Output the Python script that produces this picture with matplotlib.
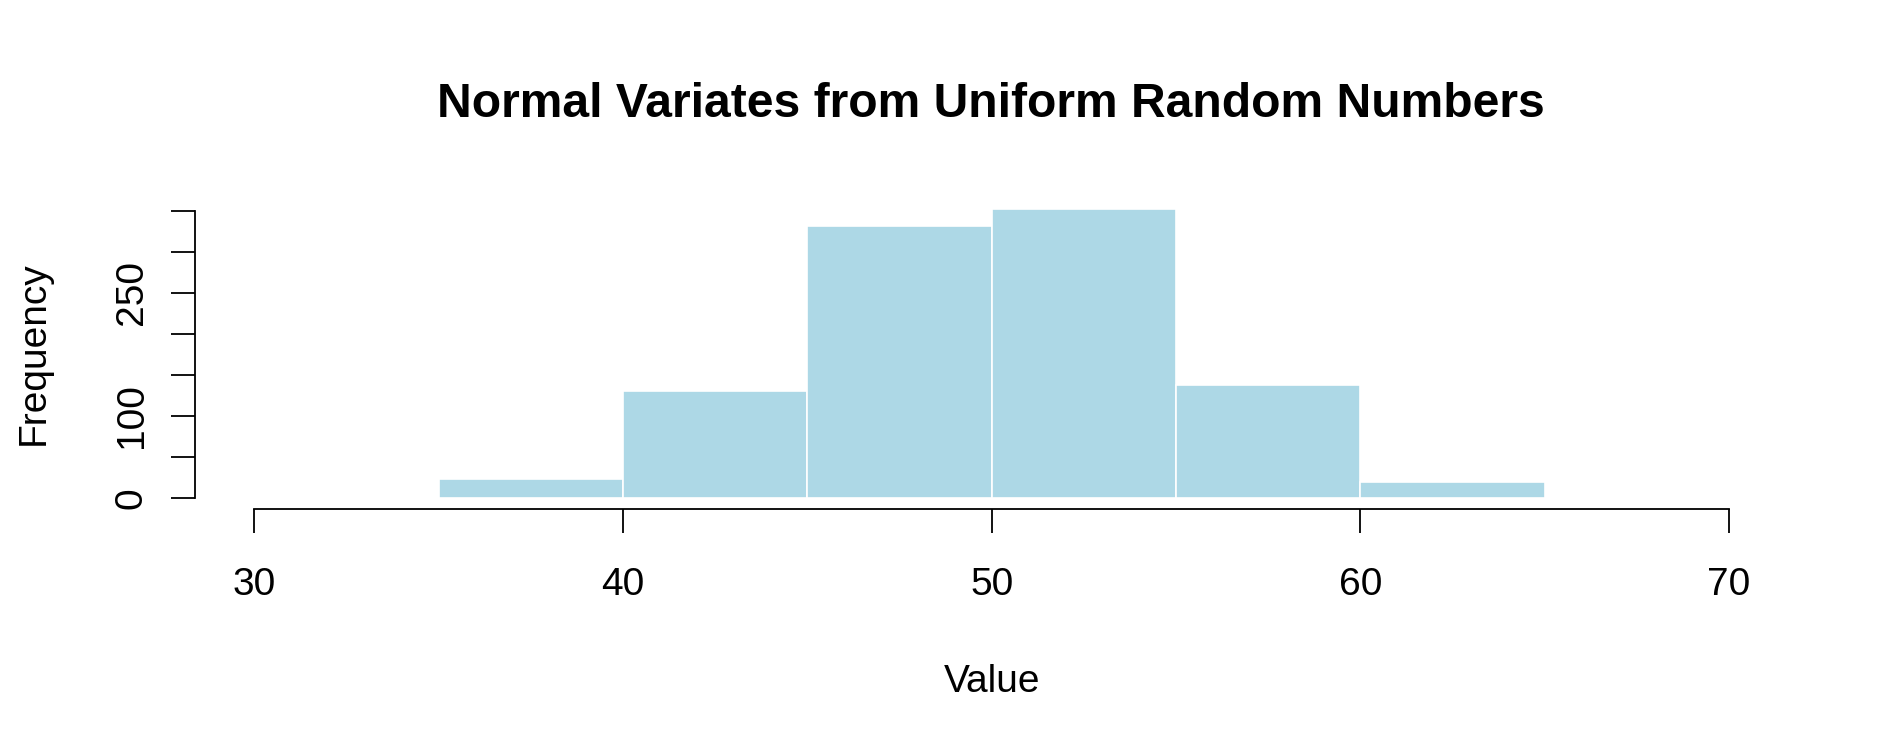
import matplotlib
matplotlib.use("Agg")
import matplotlib.pyplot as plt

# histogram data
bin_edges = [35, 40, 45, 50, 55, 60, 65]
counts = [23, 130, 331, 352, 137, 19]
y_ticks = [0, 50, 100, 150, 200, 250, 300, 350]
y_tick_labels = ["0", "", "100", "", "", "250", "", ""]
x_ticks = [30, 40, 50, 60, 70]

plt.rcParams["font.family"] = ["Liberation Sans", "DejaVu Sans"]

fig = plt.figure(figsize=(18.9, 7.55), dpi=100)
# plot region like R's, usr extends 4% past the limits
ax = fig.add_axes([195.5 / 1890, 1 - 509.3 / 755, (1788 - 195.5) / 1890, (509.3 - 197.4) / 755])

widths = [bin_edges[i + 1] - bin_edges[i] for i in range(len(counts))]
ax.bar(bin_edges[:-1], counts, width=widths, align="edge",
       color="#ADD8E6", edgecolor="white", linewidth=1.2)

ax.set_xlim(28.4, 71.6)
ax.set_ylim(-14.08, 366.08)

for side in ["top", "right"]:
    ax.spines[side].set_visible(False)
ax.spines["left"].set_bounds(0, 350)
ax.spines["bottom"].set_bounds(30, 70)
ax.spines["left"].set_linewidth(1.3)
ax.spines["bottom"].set_linewidth(1.3)

ax.set_xticks(x_ticks)
ax.set_xticklabels([str(v) for v in x_ticks])
ax.set_yticks(y_ticks)
ax.set_yticklabels(y_tick_labels, rotation=90, va="center")

ax.tick_params(axis="x", length=17.3, width=1.3, pad=24.0, labelsize=28)
ax.tick_params(axis="y", length=17.3, width=1.3, pad=15.5, labelsize=28)

ax.set_xlabel("Value", fontsize=28, va="top")
ax.xaxis.set_label_coords(0.5, -0.496)
ax.set_ylabel("Frequency", fontsize=28)
ax.yaxis.set_label_coords(-0.09, 0.5)

fig.text(991 / 1890, 1 - 117.3 / 755, "Normal Variates from Uniform Random Numbers",
         ha="center", va="baseline", fontsize=34.6, fontweight="bold")

fig.savefig("out.png", dpi=100)
